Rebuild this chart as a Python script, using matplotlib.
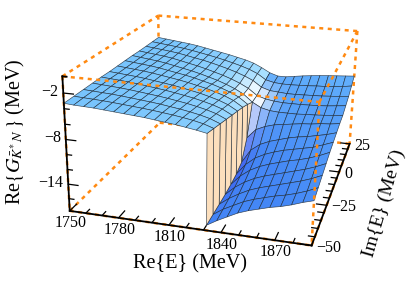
import numpy as np
import matplotlib
matplotlib.use('Agg')
import matplotlib.pyplot as plt
from mpl_toolkits.mplot3d import proj3d

plt.rcParams['font.family'] = ['Liberation Serif', 'DejaVu Serif']
plt.rcParams['mathtext.fontset'] = 'stix'

# ---------- data ----------
re_left = [1750.0, 1755.8, 1761.7, 1767.5, 1773.3, 1779.2, 1785.0, 1790.8,
           1796.7, 1802.5, 1808.3, 1814.2, 1820.0, 1825.8, 1831.7]
re_right = [1831.7, 1837.5, 1843.3, 1849.2, 1855.0, 1860.8, 1866.7, 1872.5,
            1878.3, 1884.2, 1890.0]
im_vals = [-50.0, -43.75, -37.5, -31.25, -25.0, -18.75, -12.5, -6.25,
           0.0, 6.25, 12.5, 18.75, 25.0]

z_left = [
    [-3.30, -3.40, -3.45, -3.50, -3.60, -3.70, -3.80, -3.90, -4.00, -4.15, -4.30, -4.45, -4.65, -4.85, -5.10],
    [-3.30, -3.37, -3.43, -3.50, -3.59, -3.70, -3.81, -3.92, -4.05, -4.20, -4.36, -4.55, -4.77, -5.06, -5.50],
    [-3.30, -3.38, -3.46, -3.53, -3.64, -3.77, -3.90, -4.03, -4.18, -4.37, -4.55, -4.78, -5.04, -5.38, -5.90],
    [-3.30, -3.39, -3.48, -3.57, -3.69, -3.84, -3.99, -4.14, -4.32, -4.53, -4.74, -5.01, -5.31, -5.70, -6.30],
    [-3.30, -3.40, -3.50, -3.61, -3.74, -3.91, -4.08, -4.25, -4.46, -4.69, -4.93, -5.24, -5.58, -6.02, -6.70],
    [-3.35, -3.46, -3.58, -3.69, -3.84, -4.03, -4.21, -4.40, -4.63, -4.89, -5.15, -5.49, -5.86, -6.35, -7.10],
    [-3.35, -3.47, -3.60, -3.72, -3.89, -4.10, -4.30, -4.51, -4.76, -5.05, -5.34, -5.72, -6.13, -6.67, -7.50],
    [-3.35, -3.49, -3.63, -3.77, -3.95, -4.19, -4.42, -4.65, -4.93, -5.26, -5.58, -6.00, -6.47, -7.07, -8.00],
    [-3.35, -3.51, -3.67, -3.82, -4.03, -4.29, -4.56, -4.82, -5.14, -5.50, -5.87, -6.34, -6.87, -7.55, -8.60],
    [-3.40, -3.55, -3.70, -3.85, -4.05, -4.32, -4.60, -4.87, -5.20, -5.56, -5.93, -6.38, -6.90, -7.55, -8.50],
    [-3.40, -3.55, -3.70, -3.85, -4.03, -4.28, -4.53, -4.77, -5.07, -5.40, -5.75, -6.16, -6.63, -7.20, -8.10],
    [-3.40, -3.55, -3.70, -3.85, -4.02, -4.24, -4.48, -4.73, -5.00, -5.30, -5.62, -5.98, -6.40, -6.95, -7.80],
    [-3.40, -3.55, -3.70, -3.85, -4.00, -4.20, -4.45, -4.70, -4.95, -5.20, -5.50, -5.80, -6.20, -6.80, -7.50],
]
z_right = [
    [-17.0, -16.2, -15.5, -14.8, -14.3, -13.9, -13.5, -13.2, -12.8, -12.3, -11.9],
    [-16.9, -16.0, -15.3, -14.6, -14.1, -13.7, -13.3, -13.0, -12.6, -12.1, -11.5],
    [-16.8, -15.8, -15.0, -14.3, -13.8, -13.4, -13.0, -12.6, -12.2, -11.7, -11.1],
    [-16.7, -15.5, -14.6, -13.9, -13.4, -13.0, -12.6, -12.2, -11.8, -11.3, -10.7],
    [-16.5, -15.1, -14.1, -13.4, -12.9, -12.5, -12.1, -11.8, -11.4, -10.9, -10.3],
    [-16.2, -14.6, -13.5, -12.8, -12.3, -11.9, -11.6, -11.3, -11.0, -10.5, -10.0],
    [-15.6, -13.6, -12.6, -12.0, -11.6, -11.2, -10.9, -10.7, -10.4, -10.1, -9.7],
    [-13.0, -11.6, -11.0, -10.6, -10.4, -10.2, -10.0, -9.9, -9.7, -9.6, -9.4],
    [-8.60, -9.30, -9.60, -9.70, -9.70, -9.70, -9.60, -9.55, -9.45, -9.35, -9.20],
    [-8.50, -8.90, -9.10, -9.20, -9.20, -9.20, -9.15, -9.10, -9.00, -8.85, -8.70],
    [-8.10, -8.50, -8.60, -8.70, -8.70, -8.65, -8.60, -8.55, -8.45, -8.35, -8.20],
    [-7.80, -8.10, -8.20, -8.20, -8.15, -8.10, -8.00, -7.95, -7.85, -7.70, -7.50],
    [-7.50, -7.90, -7.90, -7.70, -7.50, -7.35, -7.20, -7.10, -7.00, -6.90, -6.80],
]

re_ticks_major = [1750, 1780, 1810, 1840, 1870]
re_ticks_minor = [1760, 1770, 1790, 1800, 1820, 1830, 1850, 1860, 1880]
im_ticks_major = [-50, -25, 0, 25]
im_ticks_minor = [-45, -40, -35, -30, -20, -15, -10, -5, 5, 10, 15, 20]
z_ticks_major = [-2, -8, -14]
z_ticks_minor = [-4, -6, -10, -12, -16]

# ---------- view ----------
W, H = 407, 289
S = 500
re_lim = (1750, 1890)
im_lim = (-50, 25)
z_lim = (-17.7, 0.1)

fig = plt.figure(figsize=(W/100, H/100), dpi=100)
ax = fig.add_axes([(217.36-S/2)/W, (167.88-S/2)/H, S/W, S/H], projection='3d')
ax.patch.set_alpha(0)
ax.set_xlim(*re_lim); ax.set_ylim(*im_lim); ax.set_zlim(*z_lim)
ax.set_axis_off()
ax.view_init(elev=19.773, azim=-74.675, roll=-0.794)
ax.set_proj_type('persp', focal_length=np.exp(-1.1726))
ax.set_box_aspect((1, np.exp(0.0834), np.exp(-0.5528)), zoom=np.exp(-0.3607))
ax.computed_zorder = False

# ---------- surface ----------
re_all = np.array(re_left + re_right)
X, Y = np.meshgrid(re_all, np.array(im_vals))
Z = np.hstack([np.array(z_left), np.array(z_right)])
n_l = len(re_left)

def lerp(a, b, t):
    t = np.clip(t, 0, 1)
    return tuple(np.array(a)*(1-t) + np.array(b)*t)

WALL = (0.99, 0.875, 0.74)
cut_re, cut_im = re_left[-1], 0.0
fc = np.zeros((Z.shape[0]-1, Z.shape[1]-1, 4))
for i in range(fc.shape[0]):
    for j in range(fc.shape[1]):
        zc = Z[i:i+2, j:j+2].mean()
        rc = X[i, j:j+2].mean()
        ic = Y[i:i+2, j].mean()
        if j == n_l-1:
            fc[i, j] = WALL + (1,)
            continue
        if j < n_l-1:
            c = lerp((120/255, 196/255, 253/255), (170/255, 226/255, 255/255), (-zc-3.5)/4.5)
        else:
            c = lerp((98/255, 176/255, 252/255), (68/255, 135/255, 246/255), (-zc-7)/6)
            deep = np.exp(-((rc-cut_re)/8)**2) * (1 if ic < 0 else 0) * np.exp(-((ic+15)/22)**2)
            c = lerp(c, (60/255, 95/255, 240/255), deep)
        h = np.exp(-(((rc-cut_re)/11)**2 + ((ic-cut_im-4)/11)**2))
        c = lerp(c, (1, 1, 1), h)
        fc[i, j] = c + (1,)

surf = ax.plot_surface(X, Y, Z, rstride=1, cstride=1, facecolors=fc, shade=False,
                       edgecolor=(0.1, 0.15, 0.2, 0.85), linewidth=0.45, antialiased=True, zorder=2)
surf.set_clip_on(False)

# ---------- dotted box ----------
ORANGE = '#ff8a12'
zb, zt = z_lim
x0, x1 = re_lim
y0, y1 = im_lim
def box_edge(p, q, zo):
    ax.plot([p[0], q[0]], [p[1], q[1]], [p[2], q[2]], color=ORANGE, lw=1.8,
            linestyle=(0, (1.6, 1.8)), zorder=zo, clip_on=False, dash_capstyle='butt')
# behind the surface
box_edge((x0, y0, zt), (x0, y1, zt), 1)
box_edge((x0, y1, zt), (x1, y1, zt), 1)
box_edge((x1, y1, zt), (x1, y1, zb), 1)
box_edge((x0, y1, zt), (x0, y1, zb), 1)
box_edge((x0, y0, zb), (x0, y1, zb), 1)
box_edge((x0, y1, zb), (x1, y1, zb), 1)
box_edge((x0, y0, zb), (x1, y0, zb), 1)
box_edge((x1, y0, zb), (x1, y1, zb), 1)
box_edge((x0, y0, zt), (x0, y0, zb), 1)
# over the surface
box_edge((x0, y0, zt), (x1, y0, zt), 3)
box_edge((x1, y0, zt), (x1, y1, zt), 3)
box_edge((x1, y0, zt), (x1, y0, zb), 3)

# ---------- frame, ticks ----------
def line3(p, q, lw=1.3, zo=4):
    ax.plot([p[0], q[0]], [p[1], q[1]], [p[2], q[2]], color='k', lw=lw, zorder=zo,
            clip_on=False, solid_capstyle='projecting')

line3((x0, y0, zb), (x0, y0, zt))
line3((x0, y0, zb), (x1, y0, zb))
line3((x1, y0, zb), (x1, y1, zb))
line3((x0, y0, zt), (x0+2.5, y0, zt))

for v in z_ticks_major:
    line3((x0, y0, v), (x0+6, y0, v), lw=0.9)
for v in z_ticks_minor:
    line3((x0, y0, v), (x0+3, y0, v), lw=0.9)
for v in re_ticks_major:
    line3((v, y0, zb), (v, y0+4.5, zb), lw=0.9)
for v in re_ticks_minor:
    line3((v, y0, zb), (v, y0+2.5, zb), lw=0.9)
for v in im_ticks_major:
    line3((x1, v, zb), (x1-6, v, zb), lw=0.9)
for v in im_ticks_minor:
    line3((x1, v, zb), (x1-3.5, v, zb), lw=0.9)

# ---------- text ----------
ax.apply_aspect()
M = ax.get_proj()
def label(p, s, dx, dy, ha='center', va='center', size=11.5):
    a, b, _ = proj3d.proj_transform(p[0], p[1], p[2], M)
    ax.annotate(s, xy=(a, b), xycoords='data', xytext=(dx*0.72, dy*0.72),
                textcoords='offset points', ha=ha, va=va, fontsize=size,
                annotation_clip=False, zorder=5)

for v in re_ticks_major:
    label((v, y0, zb), str(v), 1, -12)
for v in im_ticks_major:
    label((x1, v, zb), str(v).replace('-', '\u2212'), 5, -2, ha='left')
for v in z_ticks_major:
    label((x0, y0, v), str(v).replace('-', '\u2212'), -5, 1, ha='right')

fig.text(190/W, 1-264/H, 'Re{E} (MeV)', ha='center', va='center', fontsize=14.5)
fig.text(15/W, 1-132/H, r'Re$\{G_{\bar{K}^{*}\,N}\,\}$ (MeV)', ha='center', va='center',
         rotation=90, fontsize=14.5)
fig.text(384/W, 1-203/H, 'Im{E} (MeV)', ha='center', va='center', rotation=74,
         rotation_mode='anchor', fontsize=14)

fig.savefig('out.png', dpi=100)
